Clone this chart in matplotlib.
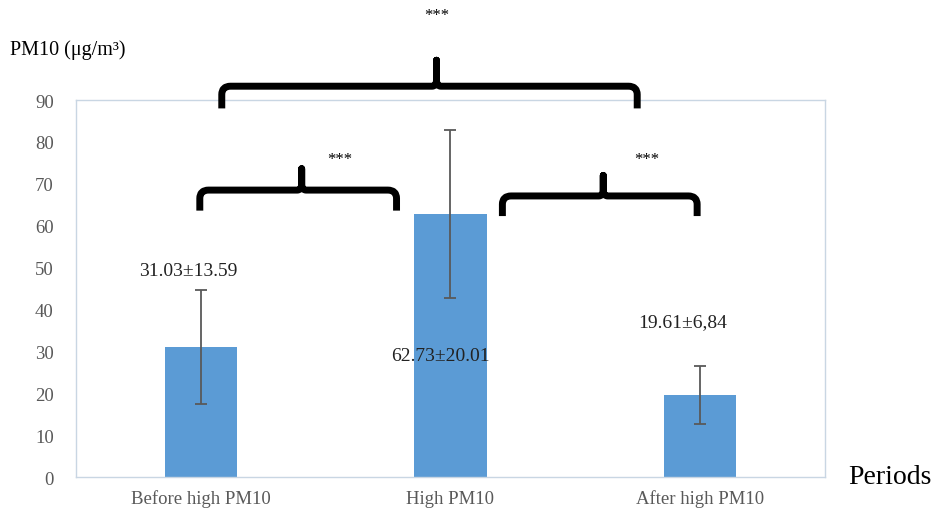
import matplotlib.pyplot as plt
from matplotlib.path import Path
import matplotlib.patches as patches
import numpy as np

# Data
periods = ['Before high PM10', 'High PM10', 'After high PM10']
means = [31.03, 62.73, 19.61]
sds = [13.59, 20.01, 6.84]
bar_labels = ['31.03±13.59', '62.73±20.01', '19.61±6,84']

plt.rcParams['font.family'] = ['Liberation Serif', 'DejaVu Serif']

fig = plt.figure(figsize=(9.31, 5.10), dpi=100)
ax = fig.add_axes([0.0816, 0.0627, 0.8045, 0.7392])

x = np.arange(len(periods))
ax.bar(x, means, width=0.29, color='#5B9BD5', zorder=2)
ax.errorbar(x, means, yerr=sds, fmt='none', ecolor='#595959',
            elinewidth=1.3, capsize=4, capthick=1.3, zorder=3)

ax.set_xlim(-0.5, 2.5)
ax.set_ylim(0, 90)
ax.set_yticks(np.arange(0, 91, 10))
ax.set_xticks(x)
ax.set_xticklabels(periods, fontsize=13.5, color='#595959')
ax.tick_params(axis='y', length=0, pad=16, labelsize=13.5, labelcolor='#595959')
ax.tick_params(axis='x', length=0, pad=9)
for s in ax.spines.values():
    s.set_color('#C9D6E3')
    s.set_linewidth(1.0)

# value labels
label_pos = [(-0.05, 49.2), (0.96, 28.9), (1.93, 37.2)]
for (lx, ly), txt in zip(label_pos, bar_labels):
    ax.text(lx, ly, txt, ha='center', va='center', fontsize=14, color='#222222')


def brace(ax, x0, x1, xc, yh, yb, ytip, r=0.035, ry=2.0, tw=0.018):
    verts = [
        (x0, yb), (x0, yh - ry),
        (x0, yh), (x0 + r, yh),
        (xc - tw, yh),
        (xc, yh), (xc, yh + 1.5),
        (xc, ytip),
        (xc, yh + 1.5),
        (xc, yh), (xc + tw, yh),
        (x1 - r, yh),
        (x1, yh), (x1, yh - ry),
        (x1, yb),
    ]
    codes = [Path.MOVETO, Path.LINETO,
             Path.CURVE3, Path.CURVE3,
             Path.LINETO,
             Path.CURVE3, Path.CURVE3,
             Path.LINETO,
             Path.LINETO,
             Path.CURVE3, Path.CURVE3,
             Path.LINETO,
             Path.CURVE3, Path.CURVE3,
             Path.LINETO]
    p = patches.PathPatch(Path(verts, codes), facecolor='none', edgecolor='black',
                          lw=5, capstyle='butt', joinstyle='round', clip_on=False, zorder=4)
    ax.add_patch(p)


# significance braces (x in category units, y in data units)
brace(ax, 0.084, 1.748, 0.944, 93.3, 88.0, 99.5)
brace(ax, -0.004, 0.784, 0.404, 68.5, 63.6, 73.6)
brace(ax, 1.208, 1.988, 1.612, 67.1, 62.3, 72.0)

ax.text(0.944, 110.2, '***', ha='center', va='center', fontsize=12, clip_on=False)
ax.text(0.556, 76.0, '***', ha='center', va='center', fontsize=12, clip_on=False)
ax.text(1.788, 76.0, '***', ha='center', va='center', fontsize=12, clip_on=False)

fig.text(0.011, 0.902, 'PM10 (μg/m³)', fontsize=14.5, ha='left', va='center')
fig.text(0.911, 0.063, 'Periods', fontsize=20, ha='left', va='center')

fig.savefig('out.png', dpi=100)
